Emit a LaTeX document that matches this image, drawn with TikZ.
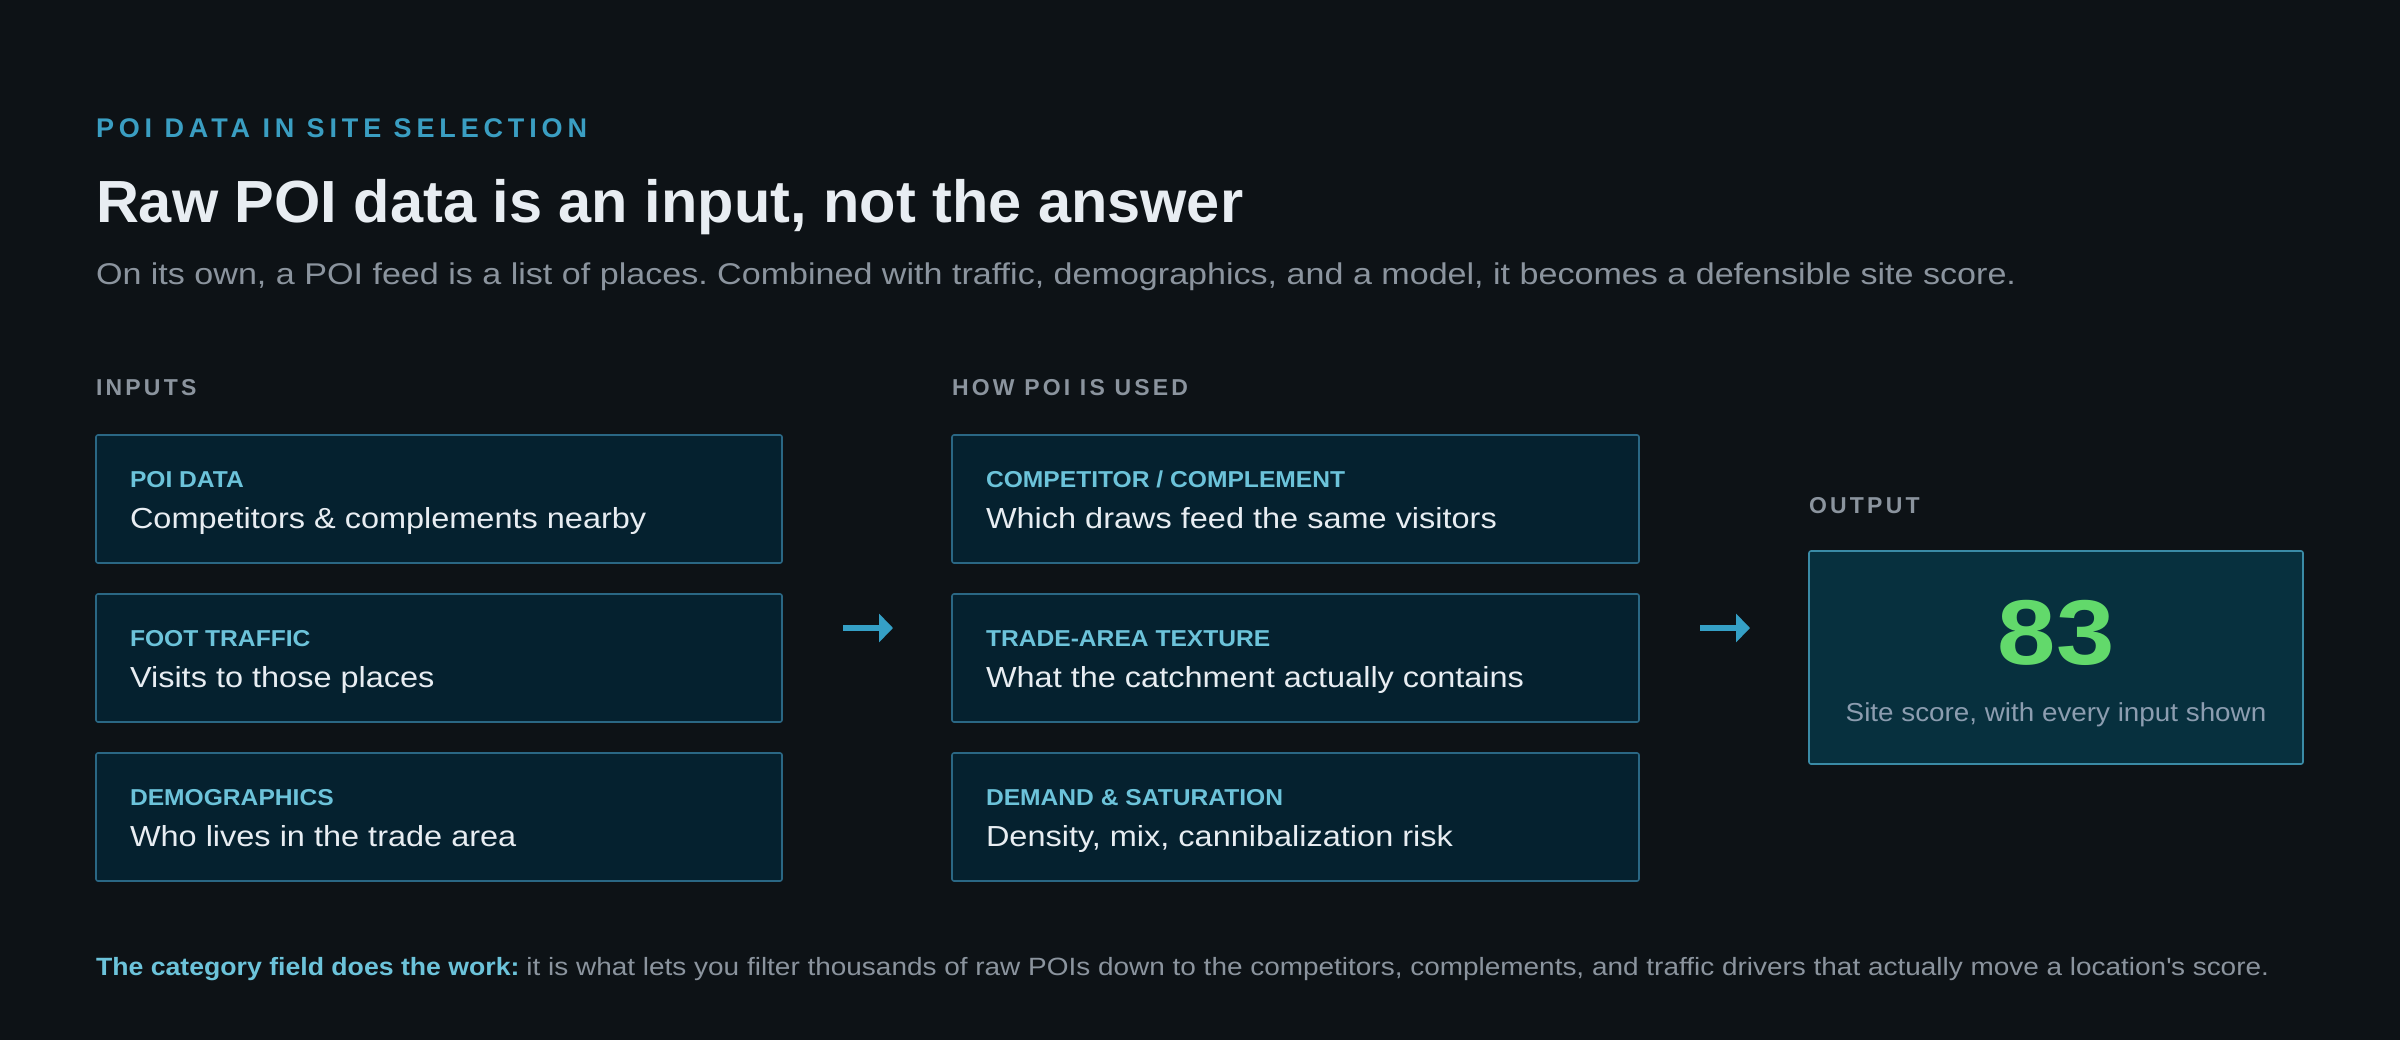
\documentclass[tikz,border=0pt]{standalone}
\usepackage{fontspec}
\setmainfont{Liberation Sans}
\newfontfamily\kickfont[LetterSpace=18]{Liberation Sans}
\newfontfamily\secfont[LetterSpace=14]{Liberation Sans}
\newfontfamily\subfont[FakeStretch=1.136]{Liberation Sans}
\newfontfamily\labfont[FakeStretch=1.07]{Liberation Sans}
\newfontfamily\bodyfont[FakeStretch=1.12]{Liberation Sans}
\newfontfamily\scorefont[FakeStretch=1.14]{Liberation Sans}
\newfontfamily\scoresubfont[FakeStretch=1.07]{Liberation Sans}
\newfontfamily\footboldfont[FakeStretch=1.066]{Liberation Sans}
\newfontfamily\footfont[FakeStretch=1.118]{Liberation Sans}
\usetikzlibrary{arrows.meta}
\definecolor{bg}{HTML}{0D1216}
\definecolor{kick}{HTML}{3A9EC2}
\definecolor{titlec}{HTML}{E8EDF2}
\definecolor{sub}{HTML}{8B949E}
\definecolor{boxfill}{HTML}{05212F}
\definecolor{boxline}{HTML}{2A6784}
\definecolor{outfill}{HTML}{07303E}
\definecolor{outline}{HTML}{3A8BA6}
\definecolor{lab}{HTML}{6CC3DA}
\definecolor{arr}{HTML}{35A0C6}
\definecolor{score}{HTML}{62D96B}
\definecolor{scoresub}{HTML}{8C9DB0}
\tikzset{
  txt/.style={anchor=base west, inner sep=0pt, outer sep=0pt},
  card/.style={draw=boxline, line width=1.6pt, fill=boxfill, rounded corners=2pt},
  outcard/.style={draw=outline, line width=1.6pt, fill=outfill, rounded corners=2pt},
  cardlab/.style={txt, text=lab, font=\labfont\fontsize{23}{26}\selectfont\bfseries},
  cardbody/.style={txt, text=titlec, font=\bodyfont\fontsize{29}{32}\selectfont},
  seclab/.style={txt, text=sub, font=\secfont\fontsize{23}{26}\selectfont\bfseries},
  flow/.style={draw=arr, line width=6pt, -{Triangle[length=14pt,width=28pt]}}
}
\begin{document}
\frenchspacing
\begin{tikzpicture}[x=1pt,y=-1pt]
\fill[bg] (0,0) rectangle (2400,1040);
\useasboundingbox (0,0) rectangle (2400,1040);

\node[txt, text=kick, font=\kickfont\fontsize{27}{30}\selectfont\bfseries] (kicker) at (96,138) {POI DATA IN SITE SELECTION};
\node[txt, text=titlec, font=\fontsize{59.5}{66}\selectfont\bfseries] (title) at (96,223) {Raw POI data is an input, not the answer};
\node[txt, text=sub, font=\subfont\fontsize{30}{34}\selectfont] (subtitle) at (96,285) {On its own, a POI feed is a list of places. Combined with traffic, demographics, and a model, it becomes a defensible site score.};

\node[seclab] (inputs) at (96,395) {INPUTS};
\node[seclab] (howused) at (952,395) {HOW POI IS USED};
\node[seclab] (output) at (1809,513) {OUTPUT};

% column 1
\foreach \n/\y/\l/\b in {i1/435/{POI DATA}/{Competitors \& complements nearby},
                          i2/594/{FOOT TRAFFIC}/{Visits to those places},
                          i3/753/{DEMOGRAPHICS}/{Who lives in the trade area}}{
  \draw[card] (96,\y) rectangle (782,\y+128);
  \node[cardlab] (\n l) at (130,\y+52) {\l};
  \node[cardbody] (\n b) at (130,\y+93) {\b};
}
% column 2
\foreach \n/\y/\l/\b in {u1/435/{COMPETITOR \slash\ COMPLEMENT}/{Which draws feed the same visitors},
                          u2/594/{TRADE-AREA TEXTURE}/{What the catchment actually contains},
                          u3/753/{DEMAND \& SATURATION}/{Density, mix, cannibalization risk}}{
  \draw[card] (952,\y) rectangle (1639,\y+128);
  \node[cardlab] (\n l) at (986,\y+52) {\l};
  \node[cardbody] (\n b) at (986,\y+93) {\b};
}
% output
\draw[outcard] (1809,551) rectangle (2303,764);
\node[anchor=base, inner sep=0pt, text=score, font=\scorefont\fontsize{92}{100}\selectfont\bfseries] (scorenum) at (2056,664) {83};
\node[anchor=base, inner sep=0pt, text=scoresub, font=\scoresubfont\fontsize{26}{30}\selectfont] (scoretxt) at (2056,721) {Site score, with every input shown};

% arrows
\coordinate (a1s) at (843,628);
\coordinate (a1e) at (893,628);
\coordinate (a2s) at (1700,628);
\coordinate (a2e) at (1750,628);
\draw[flow] (a1s) -- (a1e);
\draw[flow] (a2s) -- (a2e);

\node[txt, font=\fontsize{25}{30}\selectfont] (footer) at (96,975) {\textcolor{lab}{\footboldfont\bfseries The category field does the work:} \textcolor{sub}{\footfont it is what lets you filter thousands of raw POIs down to the competitors, complements, and traffic drivers that actually move a location\textquotesingle s score.}};
\end{tikzpicture}
\end{document}
